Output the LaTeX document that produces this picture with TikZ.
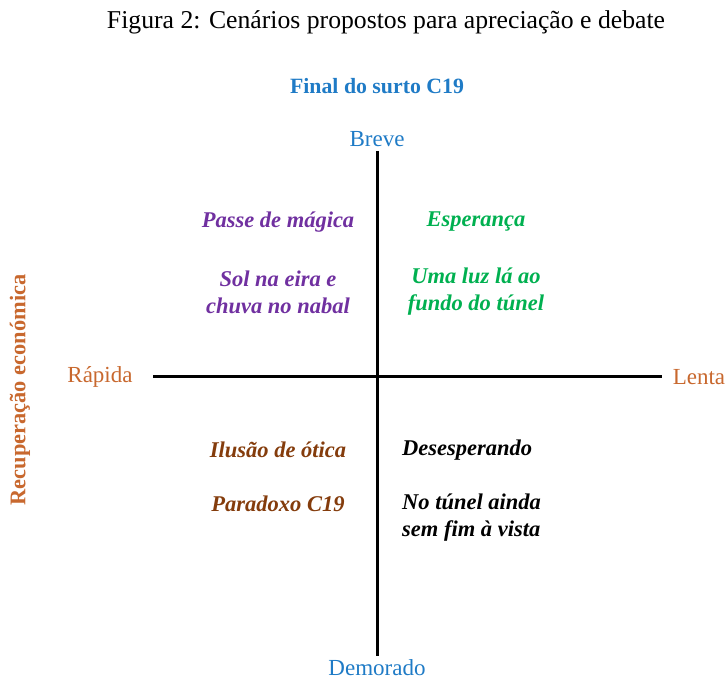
\documentclass[tikz,border=0pt]{standalone}
\usepackage{fontspec}
\setmainfont{Liberation Serif}
\definecolor{cblue}{HTML}{1F7BC6}
\definecolor{corange}{HTML}{C8682E}
\definecolor{cpurple}{HTML}{7030A0}
\definecolor{cgreen}{HTML}{00B050}
\definecolor{cbrown}{HTML}{843C0C}
\begin{document}
\begin{tikzpicture}[x=1pt,y=-1pt,
  axis/.style={line width=3pt,black},
  lbl/.style={inner sep=0pt,font=\fontsize{23}{26}\selectfont},
  scen/.style={inner sep=0pt,align=center,font=\fontsize{22.5}{27}\selectfont\bfseries\itshape},
  scenl/.style={inner sep=0pt,align=left,anchor=west,font=\fontsize{22.5}{27}\selectfont\bfseries\itshape}]
\useasboundingbox (0,0) rectangle (726,682);
\node[inner sep=0pt,font=\fontsize{25.7}{28}\selectfont] (cap) at (386,22) {Figura 2: Cenários propostos para apreciação e debate};
\node[inner sep=0pt,text=cblue,font=\fontsize{21.8}{24}\selectfont\bfseries] (fin) at (377,86) {Final do surto C19};
\coordinate (top) at (377.5,151);
\coordinate (bot) at (377.5,656);
\coordinate (lft) at (153,376);
\coordinate (rgt) at (662,376);
\draw[axis] (top) -- (bot);
\draw[axis] (lft) -- (rgt);
\node[lbl,text=cblue] (breve) at (377,139) {Breve};
\node[lbl,text=cblue] (dem) at (377,668) {Demorado};
\node[lbl,text=corange] (rap) at (100,377) {Rápida};
\node[lbl,text=corange] (lenta) at (699,377) {Lenta};
\node[inner sep=0pt,text=corange,rotate=90,font=\fontsize{22.4}{24}\selectfont\bfseries] (rec) at (20,390) {Recuperação económica};
\node[scen,text=cpurple] (pm) at (278,222) {Passe de mágica};
\node[scen,text=cpurple] (sol) at (278,292) {Sol na eira e\\chuva no nabal};
\node[scen,text=cgreen] (esp) at (476,222) {Esperança};
\node[scen,text=cgreen] (luz) at (476,292) {Uma luz lá ao\\fundo do túnel};
\node[scen,text=cbrown] (ilu) at (278,450) {Ilusão de ótica};
\node[scen,text=cbrown] (par) at (278,504) {Paradoxo C19};
\node[scenl,text=black] (des) at (402,450) {Desesperando};
\node[scenl,text=black] (tun) at (402,518) {No túnel ainda\\sem fim à vista};
\end{tikzpicture}
\end{document}
